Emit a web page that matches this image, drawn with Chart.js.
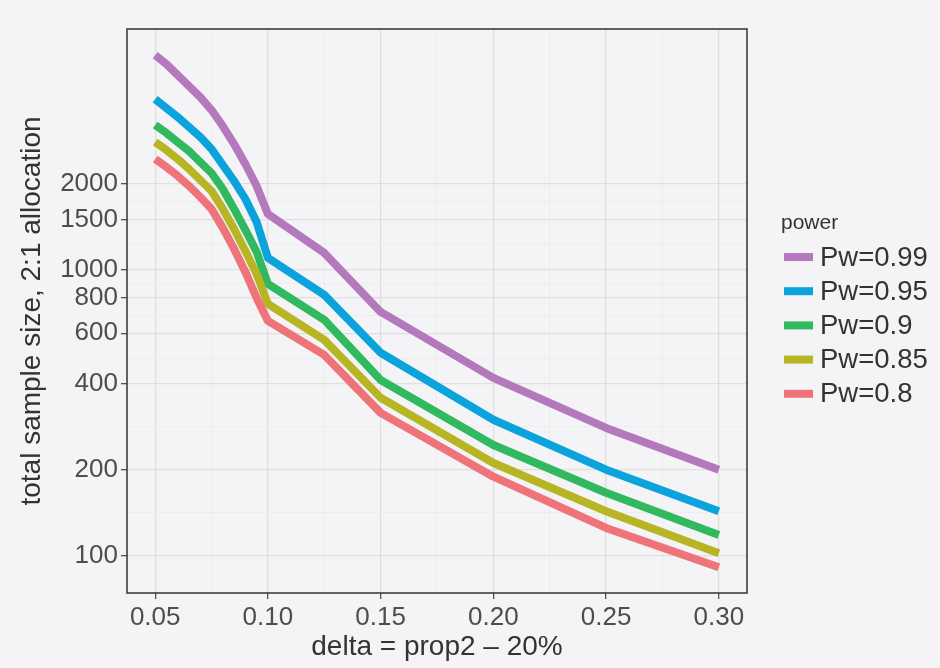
<!DOCTYPE html>
<html>
<head>
<meta charset="utf-8">
<script src="https://cdn.jsdelivr.net/npm/chart.js@4.4.1/dist/chart.umd.min.js"></script>
<style>
  html, body { margin: 0; padding: 0; background: #f4f4f6; }
  #wrap { width: 940px; height: 668px; }
</style>
</head>
<body>
<div id="wrap"><canvas id="sampleChart" width="940" height="668"></canvas></div>
<script>
// values (log y axis)
const deltas = [0.05, 0.055, 0.06, 0.065, 0.07, 0.075, 0.08, 0.085, 0.09, 0.095, 0.10,
                0.125, 0.15, 0.20, 0.25, 0.30];
const pw99 = [5646, 5253, 4807, 4400, 4027, 3627, 3188, 2758, 2348, 1967, 1570, 1147, 713, 419, 280, 200];
const pw95 = [3963, 3685, 3428, 3162, 2917, 2649, 2329, 2048, 1771, 1472, 1102, 818, 513, 299, 200, 143];
const pw90 = [3214, 3013, 2803, 2607, 2386, 2184, 1920, 1635, 1380, 1156, 893, 669, 412, 244, 166, 118];
const pw85 = [2803, 2628, 2444, 2255, 2064, 1889, 1635, 1391, 1165, 968, 761, 569, 357, 211, 143, 102];
const pw80 = [2444, 2292, 2132, 1967, 1800, 1635, 1403, 1184, 984, 798, 663, 504, 316, 189, 125, 91];

const seriesNames = ['Pw=0.99', 'Pw=0.95', 'Pw=0.9', 'Pw=0.85', 'Pw=0.8'];
const seriesValues = [pw99, pw95, pw90, pw85, pw80];
const seriesColors = ['#b479bd', '#0aa3dc', '#30b95e', '#b8b524', '#ee747a'];

const xTicks = [0.05, 0.10, 0.15, 0.20, 0.25, 0.30];
const yTicks = [100, 200, 400, 600, 800, 1000, 1500, 2000];

// minor grid lines sit half way between the major breaks
const xMinor = xTicks.slice(1).map((v, i) => (v + xTicks[i]) / 2);
const yMinor = yTicks.slice(1).map((v, i) => Math.sqrt(v * yTicks[i]));

const isMajor = (list, v) => list.some(t => Math.abs(t - v) < 1e-9);

const textFont = '"Liberation Sans", Arial, Helvetica, sans-serif';

const datasets = seriesNames.map((name, i) => ({
    label: name,
    data: deltas.map((d, j) => ({ x: d, y: seriesValues[i][j] })),
    borderColor: seriesColors[i],
    backgroundColor: seriesColors[i],
    borderWidth: 8,
    borderCapStyle: 'butt',
    borderJoinStyle: 'round',
    pointRadius: 0,
    tension: 0,
    order: seriesNames.length - i  // later series drawn on top, like ggplot
}));

function gridStyle() {
    return {
        color: (c) => c.tick && c.tick.minor ? '#ebebed' : '#dfdfe2',
        lineWidth: (c) => c.tick && c.tick.minor ? 0.8 : 1.3,
        tickColor: (c) => c.tick && c.tick.minor ? 'rgba(0,0,0,0)' : '#555',
        tickWidth: 1.3,
        tickLength: 6,
        drawTicks: true
    };
}

// panel border + legend on the right
const panelBorder = {
    id: 'panelBorder',
    afterDatasetsDraw(chart) {
        const a = chart.chartArea;
        const ctx = chart.ctx;
        ctx.save();
        ctx.strokeStyle = '#3e3e40';
        ctx.lineWidth = 1.6;
        ctx.strokeRect(a.left, a.top, a.right - a.left, a.bottom - a.top);
        ctx.restore();
    }
};

const powerLegend = {
    id: 'powerLegend',
    afterDraw(chart) {
        const ctx = chart.ctx;
        ctx.save();
        ctx.textBaseline = 'middle';
        ctx.textAlign = 'left';
        ctx.fillStyle = '#333';
        ctx.font = '21px ' + textFont;
        ctx.fillText('power', 781, 223);
        chart.data.datasets.forEach((ds, i) => {
            const y = 257 + i * 34.2;
            ctx.fillStyle = ds.borderColor;
            ctx.fillRect(784, y - 4, 29, 8);
            ctx.fillStyle = '#333';
            ctx.font = '27.5px ' + textFont;
            ctx.fillText(ds.label, 820, y + 1);
        });
        ctx.restore();
    }
};

const config = {
    type: 'line',
    data: { datasets: datasets },
    options: {
        responsive: false,
        maintainAspectRatio: false,
        animation: false,
        layout: { padding: { left: 6, top: 29, right: 193, bottom: 4 } },
        plugins: {
            legend: { display: false },
            tooltip: { enabled: false }
        },
        scales: {
            x: {
                type: 'linear',
                min: 0.0375,
                max: 0.3125,
                afterBuildTicks: (scale) => {
                    scale.ticks = xTicks.map(v => ({ value: v }))
                        .concat(xMinor.map(v => ({ value: v, minor: true })))
                        .sort((a, b) => a.value - b.value);
                },
                afterFit: (scale) => { scale.height = 71; },
                ticks: {
                    autoSkip: false,
                    maxRotation: 0,
                    padding: 3,
                    color: '#4d4d4d',
                    font: { family: textFont, size: 26 },
                    callback: (v) => isMajor(xTicks, v) ? v.toFixed(2) : ''
                },
                grid: gridStyle(),
                border: { display: false },
                title: {
                    display: true,
                    text: 'delta = prop2 \u2013 20%',
                    color: '#333',
                    font: { family: textFont, size: 28 },
                    padding: { top: 0, bottom: 0 }
                }
            },
            y: {
                type: 'logarithmic',
                min: 74,
                max: 6970,
                afterBuildTicks: (scale) => {
                    scale.ticks = yTicks.map(v => ({ value: v }))
                        .concat(yMinor.map(v => ({ value: v, minor: true })))
                        .sort((a, b) => a.value - b.value);
                },
                afterFit: (scale) => { scale.width = 121; },
                ticks: {
                    autoSkip: false,
                    padding: 3,
                    color: '#4d4d4d',
                    font: { family: textFont, size: 26 },
                    callback: (v) => isMajor(yTicks, v) ? String(v) : ''
                },
                grid: gridStyle(),
                border: { display: false },
                title: {
                    display: true,
                    text: 'total sample size, 2:1 allocation',
                    color: '#333',
                    font: { family: textFont, size: 28 },
                    padding: { top: 9, bottom: 0 }
                }
            }
        }
    },
    plugins: [panelBorder, powerLegend]
};

new Chart(document.getElementById('sampleChart').getContext('2d'), config);
</script>
</body>
</html>
